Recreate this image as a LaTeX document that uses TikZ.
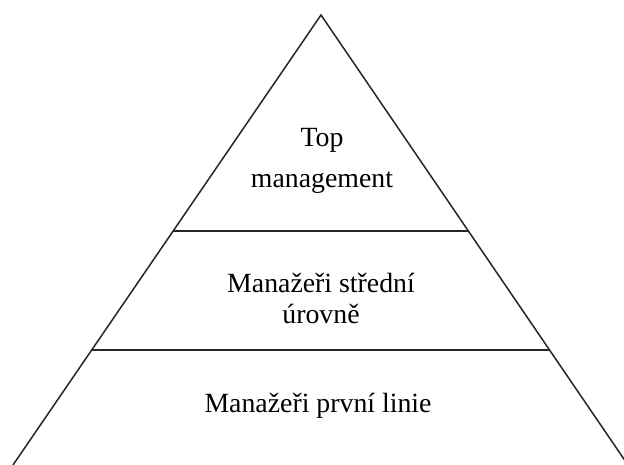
\documentclass[tikz,border=0pt]{standalone}
\usepackage{fontspec}
\setmainfont{Liberation Serif}
\begin{document}
\begin{tikzpicture}[x=1pt,y=-1pt,
  edge/.style={draw=black!85,line width=1.5pt},
  lbl/.style={anchor=base,inner sep=0pt,font=\fontsize{27.8}{31}\selectfont}]
\useasboundingbox (0,0) rectangle (624,465);
\begin{scope}
\clip (0,0) rectangle (624,465);
\coordinate (apex) at (321,15);
\coordinate (bl) at (13,465);
\coordinate (br) at (628,465);
\draw[edge,line join=miter] (bl) -- (apex) -- (br);
\coordinate (l1) at (173,231);
\coordinate (r1) at (469,231);
\coordinate (l2) at (92,350);
\coordinate (r2) at (550,350);
\draw[edge] (l1) -- (r1);
\draw[edge] (l2) -- (r2);
\end{scope}
\node[lbl] (t1) at (322,147) {Top};
\node[lbl] (t2) at (322,188) {management};
\node[lbl] (m1) at (321,292) {Manažeři střední};
\node[lbl] (m2) at (321,323) {úrovně};
\node[lbl] (b1) at (318,412) {Manažeři první linie};
\end{tikzpicture}
\end{document}
